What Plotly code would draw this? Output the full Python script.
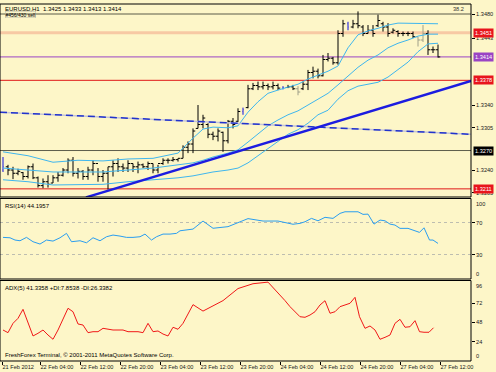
import plotly.graph_objects as go

# ---------------- data ----------------
bar_index = list(range(88))
opens = [1.3240,1.3245,1.3240,1.3235,1.3236,1.3230,1.3245,1.3228,1.3216,1.3222,
         1.3220,1.3228,1.3232,1.3240,1.3255,1.3235,1.3238,1.3230,1.3240,1.3250,
         1.3230,1.3235,1.3245,1.3250,1.3245,1.3243,1.3250,1.3245,1.3248,1.3245,
         1.3250,1.3240,1.3250,1.3255,1.3255,1.3256,1.3258,1.3275,1.3280,1.3304,
         1.3310,1.3310,1.3295,1.3292,1.3298,1.3285,1.3315,1.3315,1.3330,1.3336,
         1.3365,1.3370,1.3368,1.3370,1.3368,1.3370,1.3366,1.3367,1.3368,1.3365,
         1.3365,1.3372,1.3390,1.3392,1.3385,1.3410,1.3412,1.3405,1.3450,1.3465,
         1.3460,1.3465,1.3460,1.3450,1.3455,1.3462,1.3465,1.3460,1.3452,1.3453,
         1.3450,1.3450,1.3450,1.3445,1.3440,1.3450,1.3425,1.3425]
highs = [1.3260,1.3248,1.3245,1.3242,1.3237,1.3247,1.3250,1.3230,1.3227,1.3232,
         1.3232,1.3237,1.3243,1.3258,1.3260,1.3243,1.3240,1.3245,1.3255,1.3243,
         1.3240,1.3245,1.3255,1.3258,1.3250,1.3255,1.3250,1.3253,1.3250,1.3253,
         1.3250,1.3248,1.3258,1.3258,1.3260,1.3258,1.3278,1.3284,1.3304,1.3340,
         1.3325,1.3312,1.3299,1.3304,1.3299,1.3317,1.3320,1.3335,1.3336,1.3371,
         1.3374,1.3376,1.3376,1.3373,1.3376,1.3373,1.3369,1.3371,1.3371,1.3369,
         1.3376,1.3394,1.3399,1.3396,1.3417,1.3420,1.3414,1.3455,1.3471,1.3468,
         1.3471,1.3484,1.3463,1.3463,1.3463,1.3479,1.3468,1.3466,1.3458,1.3455,
         1.3453,1.3453,1.3453,1.3445,1.3463,1.3455,1.3430,1.3433]
lows = [1.3237,1.3232,1.3226,1.3232,1.3225,1.3227,1.3226,1.3213,1.3212,1.3213,
        1.3220,1.3222,1.3230,1.3235,1.3230,1.3227,1.3225,1.3225,1.3232,1.3222,
        1.3222,1.3210,1.3230,1.3237,1.3237,1.3237,1.3237,1.3235,1.3243,1.3240,
        1.3235,1.3235,1.3248,1.3250,1.3253,1.3253,1.3258,1.3266,1.3266,1.3304,
        1.3304,1.3289,1.3286,1.3284,1.3268,1.3281,1.3304,1.3314,1.3325,1.3335,
        1.3363,1.3363,1.3364,1.3363,1.3364,1.3363,1.3364,1.3366,1.3363,1.3355,
        1.3363,1.3363,1.3381,1.3381,1.3384,1.3407,1.3402,1.3402,1.3445,1.3455,
        1.3458,1.3458,1.3446,1.3450,1.3445,1.3460,1.3453,1.3445,1.3450,1.3445,
        1.3446,1.3446,1.3443,1.3430,1.3437,1.3417,1.3420,1.3413]
closes = [1.3245,1.3240,1.3235,1.3238,1.3230,1.3245,1.3228,1.3216,1.3222,1.3218,
          1.3228,1.3232,1.3240,1.3255,1.3235,1.3238,1.3230,1.3240,1.3250,1.3230,
          1.3235,1.3245,1.3250,1.3245,1.3243,1.3250,1.3245,1.3248,1.3245,1.3250,
          1.3240,1.3250,1.3255,1.3255,1.3256,1.3258,1.3275,1.3280,1.3300,1.3310,
          1.3320,1.3295,1.3292,1.3300,1.3285,1.3315,1.3310,1.3330,1.3333,1.3365,
          1.3370,1.3368,1.3370,1.3368,1.3370,1.3366,1.3367,1.3368,1.3365,1.3360,
          1.3372,1.3390,1.3392,1.3385,1.3410,1.3412,1.3405,1.3450,1.3465,1.3460,
          1.3465,1.3462,1.3450,1.3455,1.3450,1.3470,1.3460,1.3450,1.3455,1.3450,
          1.3450,1.3450,1.3445,1.3440,1.3450,1.3425,1.3425,1.3414]
blue_bars = [0, 48, 56, 69]
grey_bars = [59, 83, 84]

bb_index = [0,5,10,15,20,25,30,35,38,40,42,45,47,49,51,53,55,57,59,61,63,65,67,69,71,73,75,77,79,81,83,85,87]
bb_upper = [1.3268,1.3262,1.3252,1.3255,1.3254,1.3257,1.3258,1.3266,1.3289,1.3303,1.3306,1.3305,1.3308,1.3329,
            1.3345,1.3358,1.3363,1.3368,1.3372,1.3380,1.3386,1.3392,1.3400,1.3428,1.3448,1.3454,1.3458,1.3463,
            1.3466,1.3466,1.3465,1.3465,1.3465]
bb_middle = [1.3243,1.3240,1.3237,1.3237,1.3237,1.3240,1.3243,1.3248,1.3251,1.3255,1.3260,1.3266,1.3271,1.3283,
             1.3295,1.3308,1.3317,1.3325,1.3331,1.3340,1.3349,1.3358,1.3371,1.3385,1.3398,1.3409,1.3417,1.3428,
             1.3435,1.3440,1.3446,1.3449,1.3449]
bb_lower = [1.3225,1.3222,1.3217,1.3217,1.3218,1.3222,1.3225,1.3228,1.3231,1.3234,1.3237,1.3240,1.3243,1.3251,
            1.3262,1.3274,1.3285,1.3295,1.3302,1.3312,1.3325,1.3332,1.3349,1.3362,1.3369,1.3372,1.3375,1.3383,
            1.3395,1.3406,1.3422,1.3434,1.3435]

trend_x = [16.6, 93.6]
trend_y = [1.3198, 1.3377]
dash_x = [-0.6, 93.6]
dash_y = [1.3329, 1.3295]

levels = [1.3480, 1.3451, 1.3414, 1.3378, 1.3270, 1.3211]
level_colors = ["#5a5a48", "#f7c9a4", "#9a44c4", "#e01818", "#5e5e4c", "#e01818"]
level_widths = [1, 3, 1, 1, 1, 1]
boxed_levels = ["1.3451", "1.3414", "1.3378", "1.3270", "1.3211"]
boxed_values = [1.3451, 1.3414, 1.3378, 1.3270, 1.3211]
boxed_colors = ["#e8141c", "#9a44c4", "#e8141c", "#000000", "#e8141c"]
price_ticks = [1.3480, 1.3443, 1.3340, 1.3305, 1.3240, 1.3205]

rsi_x = [0,1.4,2.4,3.4,4.7,6,7.4,8.7,10,11.4,12.7,13.7,15.4,16.7,18,19.4,20.7,22,23.4,24.7,26,27.4,28.4,29.7,
         30.7,32,33.4,34.7,35.4,38,40,42,45,49,52,55,58,59.4,60.4,61.7,63,64.4,66,67.4,68.4,71,72,73,74.2,75.4,
         76.4,77.4,78.4,79.4,81,82.4,83.3,84.2,85.3,86,87]
rsi_v = [51.7,51.2,48.4,47.5,51.7,46.3,43.4,48.4,47.1,51.2,56.7,46.3,47.5,45,51.2,47.5,52.5,54.6,53.3,51.7,
         51.7,52.5,55.8,48.4,52.5,55.8,55.8,56.7,59.9,62,72,63,65,75,72,72,68,69.1,71.1,75.3,72.3,76.6,75.3,
         81.5,83.5,83.5,80.3,80.6,68.2,73.2,72.3,68.2,67,62.9,62.9,59.9,57.9,63.6,48.4,48.4,44.2]

adx_x = list(range(37)) + [38,40,42,44,47,50,53,55,56.4,57.4,59.4,60.4,61.4,62.4,63.4,64.4,65.4,66.4,67.4,68.4,
                           69.4,70.4,71.3,72.4,73.4,74.4,75.4,76.4,77.4,78.4,79.4,80.4,81.4,82.4,83.3,84.2,85.2,
                           86.1,87]
adx_v = [38.5,35.2,46.8,53.0,64.2,46.8,31.1,34.4,38.5,32.3,27.0,38.5,53.0,65.5,61.2,46.0,44.7,35.2,36.4,36.4,
         40.6,39.4,38.5,38.5,38.5,36.4,36.4,36.4,35.2,46.8,36.4,37.3,33.5,31.1,41.9,39.4,46.8,
         70,62,68,75,90,96,98,85,75,67.5,55,54.3,57.1,61.2,69.6,74.9,59.3,61.2,67.5,69.6,71.7,79.1,55,40.6,
         43.5,38.5,27,29.4,32.3,46.8,51.8,41.9,42.6,50.1,36.4,35.7,35.7,41.3]

time_ticks = [-0.2, 7.4, 15.4, 23.4, 31.4, 39.4, 47.4, 55.4, 63.4, 71.4, 79.4, 87.4]
time_labels = ["21 Feb 2012", "22 Feb 04:00", "22 Feb 12:00", "22 Feb 20:00", "23 Feb 04:00", "23 Feb 12:00",
               "23 Feb 20:00", "24 Feb 04:00", "24 Feb 12:00", "24 Feb 20:00", "27 Feb 04:00", "27 Feb 12:00"]

# ---------------- style ----------------
BG = "#fdf6c8"
FONT = "Liberation Sans"
BB_COLOR = "#3fb6ee"

H_TOP, H_BOT = 4, 11
PLOT_H = 372 - H_TOP - H_BOT
def dom(top_px, bot_px):
    return [(372 - H_BOT - bot_px) / PLOT_H, (372 - H_BOT - top_px) / PLOT_H]

main_dom = dom(4, 197)
rsi_dom = dom(198.5, 279)
adx_dom = dom(280.5, 361)

fig = go.Figure()

for lv, c, w in zip(levels, level_colors, level_widths):
    fig.add_shape(type="line", xref="paper", x0=0, x1=1, yref="y", y0=lv, y1=lv,
                  line=dict(color=c, width=w), layer="below")

for arr in (bb_upper, bb_middle, bb_lower):
    fig.add_trace(go.Scatter(x=bb_index, y=arr, mode="lines", line=dict(color=BB_COLOR, width=1),
                             hoverinfo="skip", xaxis="x", yaxis="y"))

fig.add_trace(go.Scatter(x=dash_x, y=dash_y, mode="lines", line=dict(color="#c4c4d8", width=1.5),
                         xaxis="x", yaxis="y"))
fig.add_trace(go.Scatter(x=dash_x, y=dash_y, mode="lines", line=dict(color="#2233cc", width=1.5, dash="7px,4px"),
                         xaxis="x", yaxis="y"))
fig.add_trace(go.Scatter(x=trend_x, y=trend_y, mode="lines", line=dict(color="#1c1ce0", width=2.5),
                         xaxis="x", yaxis="y"))

def subset(idx_list):
    return ([bar_index[i] for i in idx_list], [opens[i] for i in idx_list], [highs[i] for i in idx_list],
            [lows[i] for i in idx_list], [closes[i] for i in idx_list])

black = [i for i in bar_index if i not in blue_bars and i not in grey_bars]
for ids, col in ((black, "#000000"), (grey_bars, "#a0a08a"), (blue_bars, "#1010e0")):
    x, o, h, l, c = subset(ids)
    gaps = [b - a for a, b in zip(x[:-1], x[1:])]
    mg = min(gaps) if gaps else 1
    fig.add_trace(go.Ohlc(x=x, open=o, high=h, low=l, close=c, tickwidth=min(0.45 / mg, 0.5),
                          increasing=dict(line=dict(color=col, width=1)),
                          decreasing=dict(line=dict(color=col, width=1)),
                          hoverinfo="skip", xaxis="x", yaxis="y"))

fig.add_trace(go.Scatter(x=rsi_x, y=rsi_v, mode="lines", line=dict(color="#2a9ef0", width=1),
                         xaxis="x", yaxis="y2"))
fig.add_trace(go.Scatter(x=adx_x, y=adx_v, mode="lines", line=dict(color="#f01818", width=1),
                         xaxis="x", yaxis="y3"))

for d in (main_dom, rsi_dom, adx_dom):
    fig.add_shape(type="rect", xref="paper", yref="paper", x0=0, x1=1, y0=d[0], y1=d[1],
                  line=dict(color="#000000", width=1))

tick_font = dict(family=FONT, size=5.6, color="#1a1a1a")
fig.update_layout(
    width=496, height=372, margin=dict(l=0, r=25, t=H_TOP, b=H_BOT, autoexpand=False),
    paper_bgcolor=BG, plot_bgcolor=BG, showlegend=False, hovermode=False,
    xaxis=dict(domain=[0, 1], range=[-0.6, 93.6], anchor="y3", tickvals=time_ticks, ticktext=time_labels,
               ticks="outside", ticklen=3, tickcolor="#000", tickfont=tick_font, ticklabelposition="outside right",
               tickangle=0, automargin=False, rangeslider=dict(visible=False),
               showgrid=False, zeroline=False, showline=False),
    yaxis=dict(domain=main_dom, range=[1.31985, 1.34954], side="right", anchor="x", tickvals=price_ticks,
               tickformat=".4f", ticks="outside", ticklen=3, tickcolor="#000", tickfont=tick_font,
               automargin=False, showgrid=False, zeroline=False),
    yaxis2=dict(domain=rsi_dom, range=[0, 100], side="right", anchor="x", tickvals=[70, 30],
                ticks="outside", ticklen=3, tickcolor="#000", tickfont=tick_font, automargin=False,
                showgrid=True, gridcolor="#bdbdb0", griddash="dot", gridwidth=1, zeroline=False),
    yaxis3=dict(domain=adx_dom, range=[0, 100], side="right", anchor="x", tickvals=[72, 48, 24],
                ticks="outside", ticklen=3, tickcolor="#000", tickfont=tick_font, automargin=False,
                showgrid=False, zeroline=False),
)

ann = []
for txt, val, col in zip(boxed_levels, boxed_values, boxed_colors):
    ann.append(dict(xref="paper", x=1.0, xanchor="left", yref="y", y=val, text=txt, showarrow=False,
                    bgcolor=col, font=dict(family=FONT, size=5.6, color="#ffffff"), borderpad=1, xshift=2))
for txt, val in (("100", 100), ("0", 0)):
    ann.append(dict(xref="paper", x=1.0, xanchor="left", yref="y2", y=val, text=txt, showarrow=False,
                    yanchor="top" if val == 100 else "bottom", font=tick_font, xshift=3))
for txt, val in (("96", 100), ("0", 0)):
    ann.append(dict(xref="paper", x=1.0, xanchor="left", yref="y3", y=val, text=txt, showarrow=False,
                    yanchor="top" if val == 100 else "bottom", font=tick_font, xshift=3))
small = dict(family=FONT, size=6, color="#000")
ann += [
    dict(xref="paper", yref="paper", x=0.006, y=dom(4, 5)[1], xanchor="left", yanchor="top", showarrow=False,
         text="EURUSD,H1  1.3425 1.3433 1.3413 1.3414", font=small),
    dict(xref="paper", yref="paper", x=0.01, y=dom(11, 11)[1], xanchor="left", yanchor="top", showarrow=False,
         text="#456/430 sell", font=dict(family=FONT, size=5, color="#000"), bordercolor="#b8b8a8",
         borderwidth=0.5, borderpad=0),
    dict(xref="paper", x=0.99, xanchor="right", yref="y", y=1.3480, yanchor="bottom", showarrow=False,
         text="38.2", font=dict(family=FONT, size=5.6, color="#333")),
    dict(xref="paper", yref="paper", x=0.006, y=rsi_dom[1], xanchor="left", yanchor="top", showarrow=False,
         yshift=-2, text="RSI(14) 44.1957", font=small),
    dict(xref="paper", yref="paper", x=0.006, y=adx_dom[1], xanchor="left", yanchor="top", showarrow=False,
         yshift=-2, text="ADX(5) 41.3358 +DI:7.8538 -DI:26.3382", font=small),
    dict(xref="paper", yref="paper", x=0.006, y=adx_dom[0], xanchor="left", yanchor="bottom", showarrow=False,
         yshift=1, text="FreshForex Terminal, © 2001-2011 MetaQuotes Software Corp.", font=small),
]
fig.update_layout(annotations=ann)

fig.write_html("out.html", config={"displayModeBar": False, "staticPlot": True},
               post_script="document.body.style.margin='0px';document.body.style.padding='0px';"
                           "document.body.style.background='" + BG + "';")
